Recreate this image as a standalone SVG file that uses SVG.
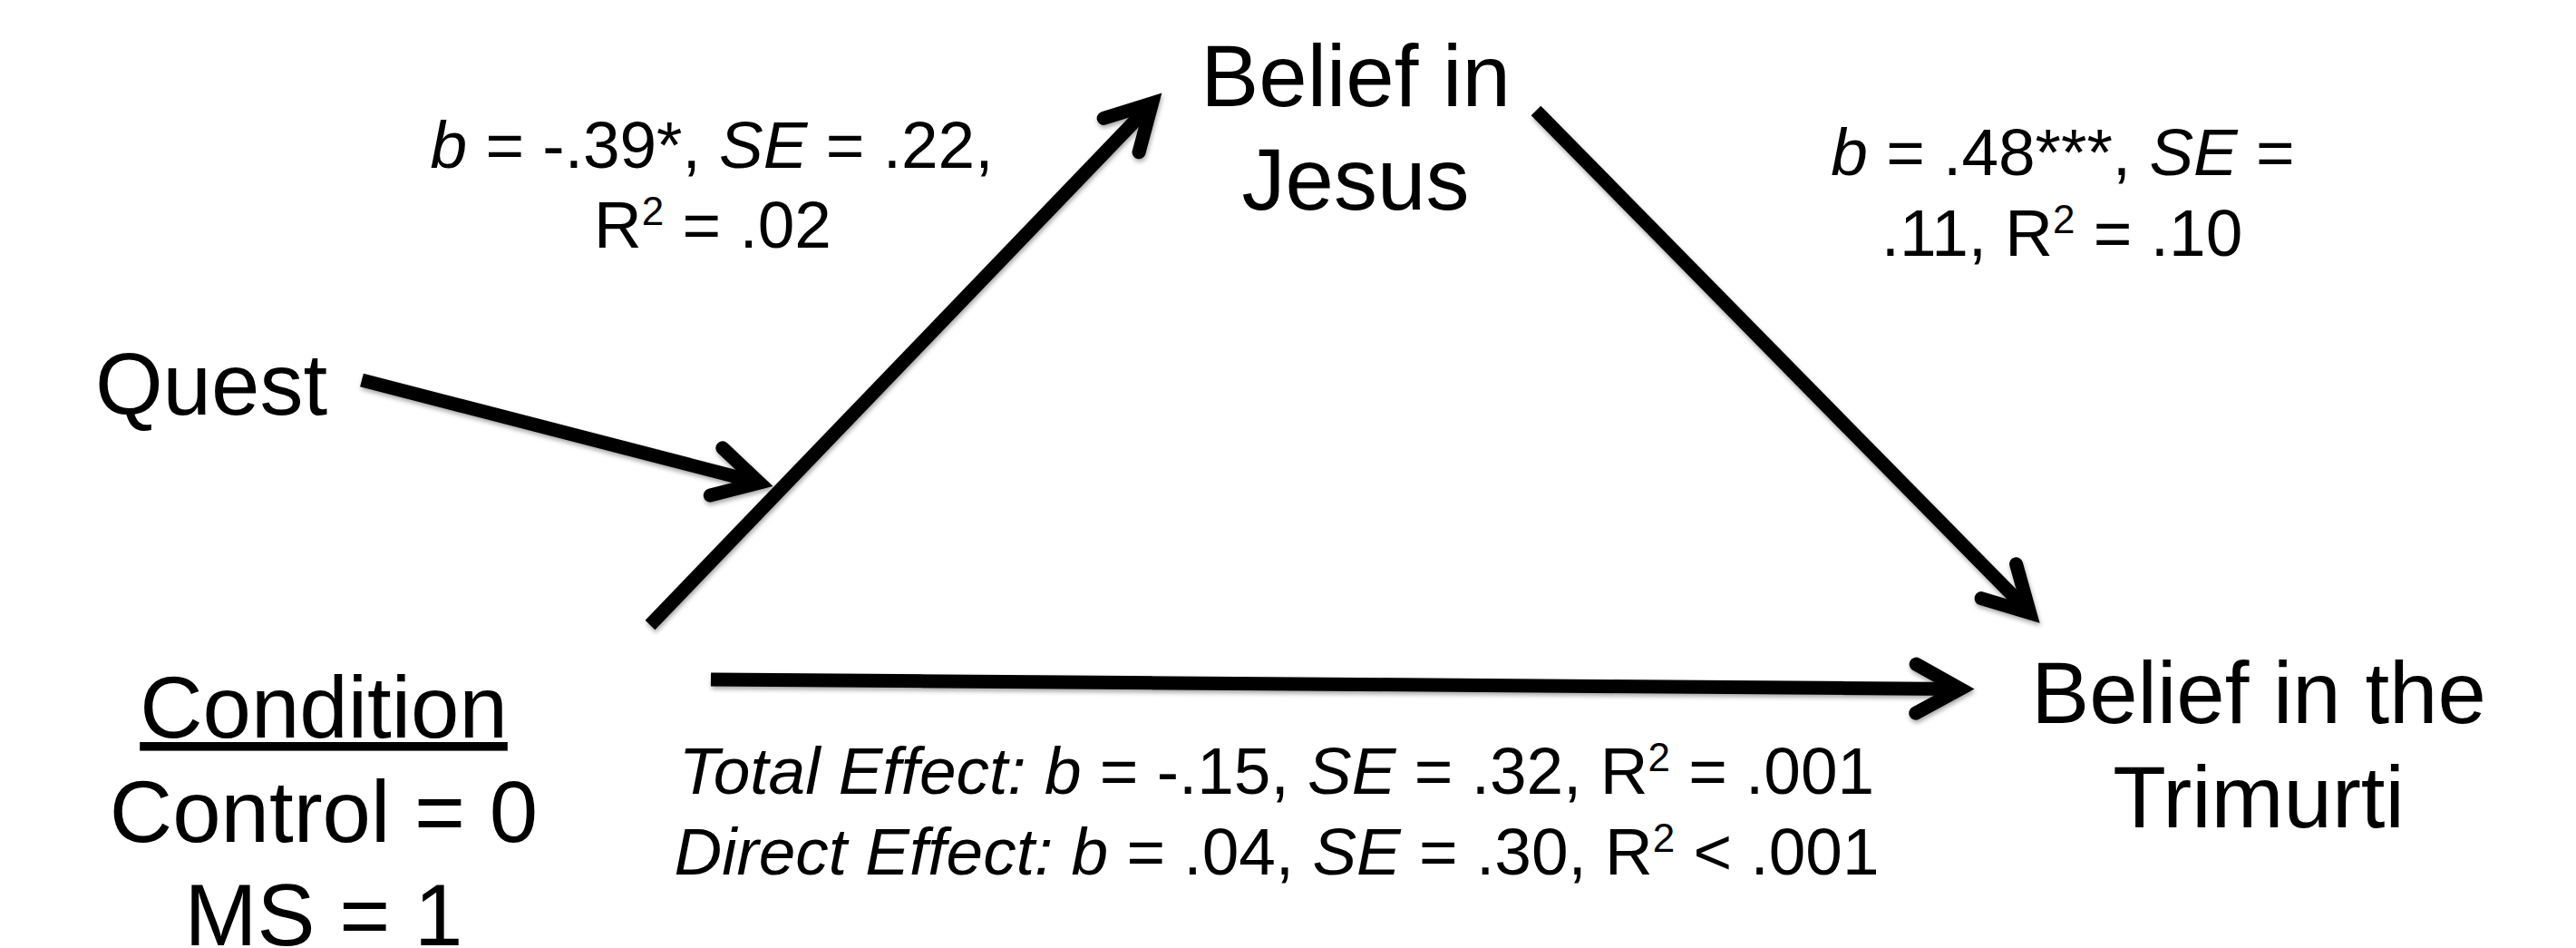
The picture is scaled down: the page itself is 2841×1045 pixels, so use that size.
<svg xmlns="http://www.w3.org/2000/svg" width="2841" height="1045" viewBox="0 0 2841 1045">
  <style>
    .big { font-family: "Liberation Sans", Arial, sans-serif; font-size: 96px; fill: #000; text-anchor: middle; }
    .lbl { font-family: "Liberation Sans", Arial, sans-serif; font-size: 73px; fill: #000; text-anchor: middle; }
    .it { font-style: italic; }
    .edge { stroke: #000; stroke-width: 15; fill: none; stroke-linecap: butt; marker-end: url(#arrow); }
  </style>
  <defs>
    <filter id="shadow" x="-10%" y="-10%" width="120%" height="120%">
      <feDropShadow dx="1" dy="3" stdDeviation="2.5" flood-color="#000" flood-opacity="0.35"/>
    </filter>
    <marker id="arrow" markerUnits="userSpaceOnUse" markerWidth="120" markerHeight="120" refX="0" refY="0" orient="auto" overflow="visible" viewBox="-60 -60 120 120">
      <path d="M -49 -27 L 0 0 L -49 27" fill="none" stroke="#000" stroke-width="15" stroke-linecap="round" stroke-linejoin="miter" stroke-miterlimit="10"/>
    </marker>
  </defs>
  <rect width="2841" height="1045" fill="#fff"/>

  <g id="connectors" filter="url(#shadow)">
    <line id="edge-condition-jesus" class="edge" x1="717" y1="689" x2="1270.6" y2="113.8"/>
    <line id="edge-jesus-trimurti" class="edge" x1="1694" y1="122" x2="2238.7" y2="675.6"/>
    <line id="edge-condition-trimurti" class="edge" x1="784" y1="749" x2="2162" y2="759.5"/>
    <line id="edge-quest" class="edge" x1="399" y1="419" x2="837.5" y2="532.2"/>
  </g>

  <g id="node-jesus">
    <text class="big" x="1495" y="117">Belief in</text>
    <text class="big" x="1495" y="231">Jesus</text>
  </g>

  <g id="node-quest">
    <text class="big" x="233" y="457">Quest</text>
  </g>

  <g id="node-condition">
    <text class="big" x="357" y="813" text-decoration="underline">Condition</text>
    <text class="big" x="357" y="928">Control = 0</text>
    <text class="big" x="357" y="1042">MS = 1</text>
  </g>

  <g id="node-trimurti">
    <text class="big" x="2491" y="797">Belief in the</text>
    <text class="big" x="2491" y="912">Trimurti</text>
  </g>

  <g id="labels">
    <text class="lbl" x="785" y="185"><tspan class="it">b</tspan> = -.39*, <tspan class="it">SE</tspan> = .22,</text>
    <text class="lbl" x="786" y="273">R<tspan font-size="44" dy="-25">2</tspan><tspan dy="25"> = .02</tspan></text>

    <text class="lbl" x="2275" y="193"><tspan class="it">b</tspan> = .48***, <tspan class="it">SE</tspan> =</text>
    <text class="lbl" x="2274" y="282">.11, R<tspan font-size="44" dy="-25">2</tspan><tspan dy="25"> = .10</tspan></text>

    <text class="lbl" x="1408" y="875"><tspan class="it">Total Effect: b</tspan> = -.15, <tspan class="it">SE</tspan> = .32, R<tspan font-size="44" dy="-25">2</tspan><tspan dy="25"> = .001</tspan></text>
    <text class="lbl" x="1408" y="964"><tspan class="it">Direct Effect: b</tspan> = .04, <tspan class="it">SE</tspan> = .30, R<tspan font-size="44" dy="-25">2</tspan><tspan dy="25"> &lt; .001</tspan></text>
  </g>
</svg>
